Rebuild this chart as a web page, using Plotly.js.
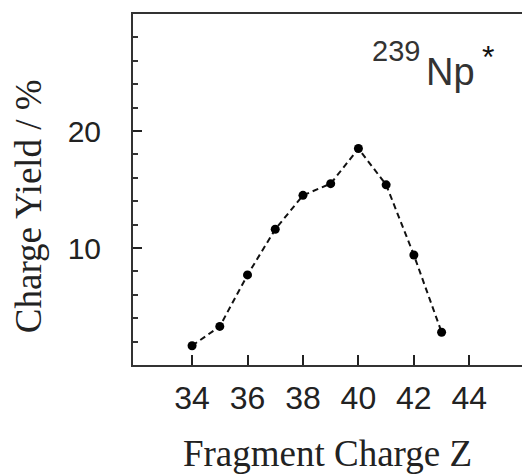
<!DOCTYPE html>
<html>
<head>
<meta charset="utf-8">
<script src="https://cdn.plot.ly/plotly-3.0.1.min.js"></script>
<style>html,body{margin:0;padding:0;background:#fff;}#chart{width:523px;height:474px;}</style>
</head>
<body>
<div id="chart"></div>
<script>
const fragmentCharge = [34, 35, 36, 37, 38, 39, 40, 41, 42, 43];
const chargeYield = [1.65, 3.3, 7.7, 11.6, 14.5, 15.5, 18.5, 15.4, 9.4, 2.8];
const xTickValues = [34, 36, 38, 40, 42, 44];
const xTickLabels = ['34', '36', '38', '40', '42', '44'];
const yTickValues = [10, 20];
const yTickLabels = ['10', '20'];

const trace = {
  x: fragmentCharge,
  y: chargeYield,
  type: 'scatter',
  mode: 'lines+markers',
  line: {color: '#111', width: 2, dash: '6px,4px'},
  marker: {color: '#000', size: 9, symbol: 'circle'},
  cliponaxis: false,
  showlegend: false
};

const layout = {
  width: 523,
  height: 474,
  margin: {l: 133, r: 1, t: 14, b: 109},
  paper_bgcolor: '#fff',
  plot_bgcolor: '#fff',
  showlegend: false,
  xaxis: {
    range: [31.87, 45.9],
    tickmode: 'array',
    tickvals: xTickValues,
    ticktext: xTickLabels,
    ticks: 'inside',
    ticklen: 10,
    tickwidth: 2,
    tickcolor: '#222',
    showline: true,
    linecolor: '#333',
    linewidth: 2,
    mirror: true,
    showgrid: false,
    zeroline: false,
    ticklabelstandoff: 4,
    tickfont: {family: 'Liberation Sans, Arial, sans-serif', size: 32, color: '#222'},
    title: {text: 'Fragment Charge Z', font: {family: 'Liberation Serif, Times New Roman, serif', size: 37, color: '#222'}, standoff: 26}
  },
  yaxis: {
    range: [0, 30],
    tickmode: 'array',
    tickvals: yTickValues,
    ticktext: yTickLabels,
    ticks: 'inside',
    ticklen: 9,
    tickwidth: 2,
    tickcolor: '#222',
    minor: {dtick: 2, tick0: 0, ticks: 'inside', ticklen: 5, tickwidth: 2, tickcolor: '#333', showgrid: false},
    showline: true,
    linecolor: '#333',
    linewidth: 2,
    showgrid: false,
    zeroline: false,
    ticklabelstandoff: 24,
    tickfont: {family: 'Liberation Sans, Arial, sans-serif', size: 30, color: '#222'}
  },
  annotations: [
    {xref: 'paper', yref: 'paper', x: -0.267, y: 0.453, xanchor: 'center', yanchor: 'middle', textangle: -90, showarrow: false,
     text: 'Charge Yield / %', font: {family: 'Liberation Serif, Times New Roman, serif', size: 37, color: '#222'}},
    {xref: 'paper', yref: 'paper', x: 0.676, y: 0.896, xanchor: 'center', yanchor: 'middle', showarrow: false,
     text: '239', font: {family: 'Liberation Sans, Arial, sans-serif', size: 29, color: '#333'}},
    {xref: 'paper', yref: 'paper', x: 0.815, y: 0.835, xanchor: 'center', yanchor: 'middle', showarrow: false,
     text: 'Np', font: {family: 'Liberation Sans, Arial, sans-serif', size: 38, color: '#333'}},
    {xref: 'paper', yref: 'paper', x: 0.913, y: 0.877, xanchor: 'center', yanchor: 'middle', showarrow: false,
     text: '*', font: {family: 'Liberation Sans, Arial, sans-serif', size: 32, color: '#111'}}
  ]
};

Plotly.newPlot('chart', [trace], layout, {displayModeBar: false, staticPlot: true});
</script>
</body>
</html>
